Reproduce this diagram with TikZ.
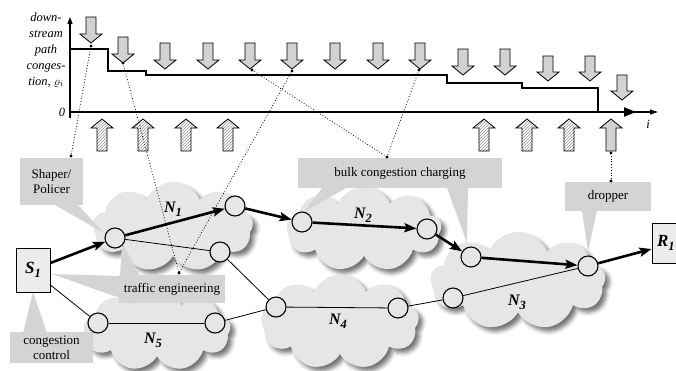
\documentclass[tikz,border=0pt]{standalone}
\usepackage{fontspec}
\setmainfont{Liberation Serif}
\usetikzlibrary{shapes.symbols,shadows.blur,patterns,arrows.meta}
\definecolor{cloudgray}{HTML}{E6E6E6}
\definecolor{callgray}{HTML}{D4D4D4}
\definecolor{blkgray}{HTML}{D2D2D2}
\definecolor{boxgray}{HTML}{ECECEC}

\tikzset{
  net/.style={cloud, cloud puffs=9, cloud puff arc=135, cloud ignores aspect,
    fill=cloudgray, inner sep=0pt,
    blur shadow={shadow xshift=4pt, shadow yshift=-4pt, shadow blur radius=4pt, shadow opacity=55}},
  router/.style={circle, draw, line width=1.1pt, fill=cloudgray, minimum size=20pt, inner sep=0pt},
  hop/.style={line width=2.6pt, -{Stealth[length=12pt,width=9pt,inset=2pt]}},
  link/.style={line width=0.8pt},
  endpt/.style={draw, line width=0.9pt, fill=boxgray, inner sep=0pt,
    font=\fontsize{17}{17}\selectfont\bfseries\itshape},
  callout/.style={fill=callgray, inner sep=0pt, align=center,
    font=\fontsize{13}{15}\selectfont},
  trace/.style={dotted, line width=0.8pt},
  netlabel/.style={font=\fontsize{16}{16}\selectfont\bfseries\itshape},
  blkdown/.style={draw, line width=0.8pt, fill=blkgray},
  blkup/.style={draw, line width=0.8pt, preaction={fill=white},
    pattern=north east lines, pattern color=gray!85},
  axislab/.style={font=\fontsize{12.5}{16}\selectfont\itshape, align=center},
}

% block arrow pointing down: x, top, tip
\newcommand\dnblk[3]{%
  \draw[blkdown] (#1-5,#2) -- (#1+5,#2) -- (#1+5,#3-9) -- (#1+11,#3-9)
    -- (#1,#3) -- (#1-11,#3-9) -- (#1-5,#3-9) -- cycle;}
% block arrow pointing up: style, x
\newcommand\upblk[2]{%
  \draw[#1] (#2-5,151) -- (#2+5,151) -- (#2+5,128) -- (#2+11,128)
    -- (#2,119) -- (#2-11,128) -- (#2-5,128) -- cycle;}
\newcommand\sub[2]{#1\raisebox{-4pt}{\fontsize{12.5}{12.5}\selectfont #2}}

\begin{document}
\begin{tikzpicture}[x=1pt,y=-1pt]
\useasboundingbox (0,0) rectangle (676,370);

% ---------- congestion profile along the path ----------
\node[axislab] (ylab) at (46,50) {down-\\stream\\path\\conges-\\tion, $\varrho_i$};
\node[font=\fontsize{12.5}{12.5}\selectfont\itshape] (zero) at (62,112) {0};
\node[font=\fontsize{12.5}{12.5}\selectfont\itshape] (ilab) at (648,124) {i};

\coordinate (o) at (70,112);
\coordinate (ytop) at (70,17);
\coordinate (ybot) at (70,118);
\coordinate (xend) at (658,112);
\draw[line width=1.1pt, -{Triangle[length=7pt,width=5pt]}] (ybot) -- (ytop);
\draw[line width=1.1pt, -{Triangle[length=8pt,width=5pt]}] (o) -- (xend);

\draw[line width=2.2pt, -{Triangle[length=12pt,width=9pt]}]
  (70,49) -- (108,49) -- (108,71) -- (146,71) -- (146,75) -- (447,75)
  -- (447,83) -- (522,83) -- (522,88) -- (598,88) -- (598,112) -- (636,112);

% congestion marks arriving from downstream
\dnblk{91}{17}{43}
\dnblk{123}{37}{63}
\foreach \x in {165,208,250,292,335,378,420} {\dnblk{\x}{43}{69}}
\foreach \x in {463,505} {\dnblk{\x}{49}{75}}
\foreach \x in {548,590} {\dnblk{\x}{56}{81}}
\dnblk{622}{75}{100}

% marks leaving upstream
\foreach \x in {102,143,186,228,484,527,569} {\upblk{blkup}{\x}}
\upblk{blkdown}{611}

% ---------- networks ----------
\node[net, minimum width=160pt, minimum height=90pt] (N1) at (173,227) {};
\node[net, minimum width=155pt, minimum height=85pt] (N2) at (364,229) {};
\node[net, minimum width=147pt, minimum height=82pt] (N5) at (157,330) {};
\node[net, minimum width=158pt, minimum height=95pt] (N4) at (340,322) {};
\node[net, minimum width=175pt, minimum height=98pt] (N3) at (518,281) {};

% ---------- callouts ----------
\node[callout, minimum width=63pt, minimum height=47pt] (shaper) at (51.5,181.5) {Shaper/\\Policer};
\fill[callgray] (55,205) -- (78,205) -- (104,233) -- cycle;

\node[callout, minimum width=106pt, minimum height=28pt] (te) at (172,289) {traffic engineering};
\fill[callgray] (120,276) -- (140,276) -- (122,242) -- cycle;
\fill[callgray] (120,276) -- (120,298) -- (52,274) -- cycle;

\node[callout, minimum width=83pt, minimum height=31pt] (cc) at (51.5,347.5) {congestion\\control};
\fill[callgray] (23,333) -- (47,333) -- (33,292) -- cycle;

\node[callout, minimum width=204pt, minimum height=30pt] (bulk) at (400,173) {bulk congestion charging};
\fill[callgray] (322,188) -- (346,188) -- (304,212) -- cycle;
\fill[callgray] (447,188) -- (468,188) -- (467,243) -- cycle;

\node[callout, minimum width=86pt, minimum height=29pt] (drop) at (608,196.5) {dropper};
\fill[callgray] (582,211) -- (597,211) -- (588,251) -- cycle;

% ---------- dotted traces ----------
\coordinate (m1) at (91,46);
\coordinate (m2) at (123,63);
\coordinate (m3) at (252,70);
\coordinate (m4) at (292,71);
\coordinate (m5) at (419,70);
\coordinate (m6) at (611,153);
\coordinate (c1) at (71,156);
\coordinate (c2) at (179,273);
\coordinate (c3) at (387,157);
\coordinate (c4) at (611,181);
\draw[trace] (m1) -- (c1);
\draw[trace] (m2) -- (c2);
\draw[trace] (m4) -- (c2);
\draw[trace] (m3) -- (c3);
\draw[trace] (m5) -- (c3);
\draw[trace] (m6) -- (c4);
\foreach \p in {m1,m2,m3,m4,m5,m6,c1,c2,c3,c4} {\fill (\p) circle (1.7pt);}

% ---------- endpoints and routers ----------
\node[endpt, minimum width=34pt, minimum height=44pt] (S1) at (33,270) {\sub{S}{1}};
\node[endpt, minimum width=52pt, minimum height=40pt, text width=48pt, align=left] (R1) at (678,243) {\hspace{3pt}\sub{R}{1}};

\node[router] (A) at (115,238) {};
\node[router] (B) at (235,206) {};
\node[router] (C) at (220,252) {};
\node[router] (D) at (98,323) {};
\node[router] (E) at (215,323) {};
\node[router] (F) at (276,307) {};
\node[router] (G) at (302,222) {};
\node[router] (H) at (427,229) {};
\node[router] (I) at (471,257) {};
\node[router] (J) at (588,266) {};
\node[router] (K) at (398,308) {};
\node[router] (L) at (453,298) {};

% lightly loaded alternative route
\draw[link] (A) -- (C);
\draw[link] (C) -- (F);
\draw[link] ([yshift=-15pt]S1.east) -- (D);
\draw[link] (D) -- (E);
\draw[link] (E) -- (F);
\draw[link] (F) -- (K);
\draw[link] (K) -- (L);
\draw[link] (L) -- (J);

% the flow's path
\draw[hop] ([yshift=7pt]S1.east) -- (A);
\draw[hop] (A) -- (B);
\draw[hop] (B) -- (G);
\draw[hop] (G) -- (H);
\draw[hop] (H) -- (I);
\draw[hop] (I) -- (J);
\draw[hop] (J) -- (R1.west |- 0,249);

% network names
\node[netlabel] (l1) at (173,209) {\sub{N}{1}};
\node[netlabel] (l2) at (363,215) {\sub{N}{2}};
\node[netlabel] (l3) at (517,302) {\sub{N}{3}};
\node[netlabel] (l4) at (338,321) {\sub{N}{4}};
\node[netlabel] (l5) at (153,340) {\sub{N}{5}};
\end{tikzpicture}
\end{document}
